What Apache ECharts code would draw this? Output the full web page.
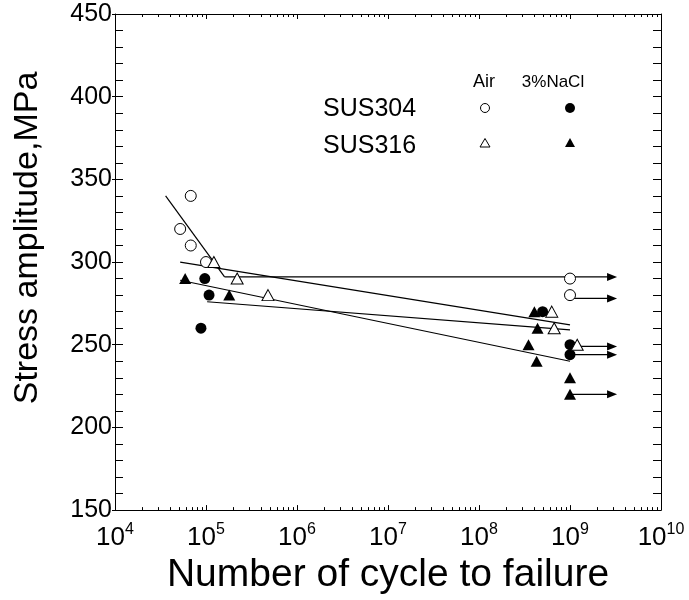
<!DOCTYPE html>
<html><head><meta charset="utf-8">
<script src="https://cdn.jsdelivr.net/npm/echarts@6/dist/echarts.min.js"></script>
<style>html,body{margin:0;padding:0;background:#fff}#c{width:689px;height:600px}</style>
</head><body><div id="c"></div>
<script>
// ---- data ----
const yTickLabels = [150, 200, 250, 300, 350, 400, 450];
const xTickExponents = [4, 5, 6, 7, 8, 9, 10];
const sus304Air  = [[5.2e4,320],[6.8e4,340],[6.8e4,310],[1.0e5,300],[1e9,290],[1e9,280]];
const sus304NaCl = [[9.7e4,290],[1.08e5,280],[8.8e4,260],[5.0e8,270],[1e9,250],[1e9,244]];
const sus316Air  = [[1.22e5,300],[2.2e5,290],[4.8e5,280],[6.3e8,270],[6.7e8,260],[1.2e9,250]];
const sus316NaCl = [[5.9e4,290],[1.8e5,280],[4.06e8,270],[4.4e8,260],[3.5e8,250],[4.3e8,240],[1e9,230],[1e9,220]];
const fitSteep = [[3.6e4,340],[1.6e5,291]];
const fitA = [[5.2e4,300],[1e9,262]];
const fitB = [[5.2e4,289],[1e9,240]];
const fitC = [[1.03e5,276],[1e9,259]];
const runoutStarts = [[1.6e5,291],[1e9,278],[1.2e9,249],[1e9,244],[1e9,220]];
const runoutEndX = 2.9e9;

// ---- chart ----
const FONT = 'Liberation Sans, Arial, sans-serif';
const chart = echarts.init(document.getElementById('c'), null, {renderer:'canvas'});
const minorX = [];
for (let e = 4; e < 10; e++) for (let k = 2; k <= 9; k++) minorX.push([k*Math.pow(10,e), 150]);

const black = '#000';
function scatter(data, symbol, size, open){
  return {type:'scatter', data, symbol, symbolSize:size, z:5,
    itemStyle:{color: open ? '#fff' : black, borderColor:black, borderWidth: open ? 1 : 0, opacity:1}};
}
function fit(data){
  return {type:'line', data, showSymbol:false, symbol:'none', z:3,
    lineStyle:{color:black, width:1.2}};
}
const runoutSeries = runoutStarts.map(p => ({
  type:'line', z:3, showSymbol:true,
  data:[{value:p, symbol:'none'}, {value:[runoutEndX, p[1]], symbol:'triangle', symbolSize:[8,10], symbolRotate:-90}],
  lineStyle:{color:black, width:1.2}, itemStyle:{color:black, borderWidth:0}
}));

const yCommon = {type:'value', min:150, max:450, interval:50, splitLine:{show:false}};
const xCommon = {type:'log', logBase:10, min:1e4, max:1e10, splitNumber:6, splitLine:{show:false}};

chart.setOption({
  animation:false,
  backgroundColor:'#fff',
  grid:{left:115, right:28, top:14, bottom:85, containLabel:false},
  xAxis:[
    Object.assign({}, xCommon, {position:'bottom',
      axisLine:{lineStyle:{color:black, width:1}},
      axisTick:{inside:true, length:5, lineStyle:{color:black}},
      axisLabel:{margin:11, color:black, fontFamily:FONT,
        formatter: v => { const e = Math.round(Math.log10(v)); return xTickExponents.indexOf(e) >= 0 ? '{b|10}{s|' + e + '}' : ''; },
        rich:{b:{fontSize:26, lineHeight:30, fontFamily:FONT, color:black, verticalAlign:'bottom'},
              s:{fontSize:16, lineHeight:16, fontFamily:FONT, color:black, verticalAlign:'top'}}},
      name:'Number of cycle to failure', nameLocation:'middle', nameGap:41,
      nameTextStyle:{fontSize:39, fontFamily:FONT, color:black}}),
    Object.assign({}, xCommon, {position:'top',
      axisLine:{lineStyle:{color:black, width:1}},
      axisTick:{inside:true, length:5, lineStyle:{color:black}},
      axisLabel:{show:false}})
  ],
  yAxis:[
    Object.assign({}, yCommon, {position:'left',
      axisLine:{show:true, lineStyle:{color:black, width:1}},
      axisTick:{inside:true, length:8, lineStyle:{color:black}},
      minorTick:{show:true, splitNumber:5, length:8, lineStyle:{color:black}},
      axisLabel:{margin:3, fontSize:25, fontFamily:FONT, color:black,
        formatter: v => yTickLabels.indexOf(v) >= 0 ? String(v) : ''}}),
    Object.assign({}, yCommon, {position:'right',
      axisLine:{show:true, lineStyle:{color:black, width:1}},
      axisTick:{inside:true, length:8, lineStyle:{color:black}},
      minorTick:{show:true, splitNumber:5, length:8, lineStyle:{color:black}},
      axisLabel:{show:false}}),
    Object.assign({}, yCommon, {position:'left',
      axisLine:{show:false},
      axisTick:{show:true, inside:false, length:3, lineStyle:{color:black}},
      axisLabel:{show:false}})
  ],
  graphic:[
    {type:'text', x:28, y:238, rotation:Math.PI/2,
      style:{text:'Stress amplitude,MPa', fontSize:34, fontFamily:FONT, fill:black, align:'center', verticalAlign:'middle'}},
    {type:'text', x:484, y:82, style:{text:'Air', fontSize:18, fontFamily:FONT, fill:black, align:'center', verticalAlign:'middle'}},
    {type:'text', x:553, y:82, style:{text:'3%NaCl', fontSize:17, fontFamily:FONT, fill:black, align:'center', verticalAlign:'middle'}},
    {type:'text', x:323, y:109, style:{text:'SUS304', fontSize:25, fontFamily:FONT, fill:black, align:'left', verticalAlign:'middle'}},
    {type:'text', x:323, y:146, style:{text:'SUS316', fontSize:25, fontFamily:FONT, fill:black, align:'left', verticalAlign:'middle'}},
    {type:'circle', shape:{cx:485, cy:108, r:4.5}, style:{fill:'#fff', stroke:black, lineWidth:1}},
    {type:'circle', shape:{cx:570, cy:108, r:5}, style:{fill:black}},
    {type:'polygon', shape:{points:[[485,138.5],[490,147],[480,147]]}, style:{fill:'#fff', stroke:black, lineWidth:1}},
    {type:'polygon', shape:{points:[[570,138],[575,147],[565,147]]}, style:{fill:black}}
  ],
  series:[
    fit(fitSteep), fit(fitA), fit(fitB), fit(fitC),
    ...runoutSeries,
    scatter(sus304Air, 'circle', 11, true),
    scatter(sus304NaCl, 'circle', 11, false),
    scatter(sus316Air, 'triangle', [12,11], true),
    scatter(sus316NaCl, 'triangle', [12,11], false),
    {type:'custom', data:minorX, encode:{x:0, y:1}, z:4, clip:false,
      renderItem:(params, api) => {
        const v = api.value(0);
        const pb = api.coord([v,150]), pt = api.coord([v,450]);
        const x = Math.round(pb[0]) + 0.5;
        return {type:'group', children:[
          {type:'line', shape:{x1:x, y1:pb[1], x2:x, y2:pb[1]-3}, style:{stroke:black, lineWidth:1}},
          {type:'line', shape:{x1:x, y1:pt[1], x2:x, y2:pt[1]+3}, style:{stroke:black, lineWidth:1}}
        ]};
      }}
  ]
});
</script></body></html>
